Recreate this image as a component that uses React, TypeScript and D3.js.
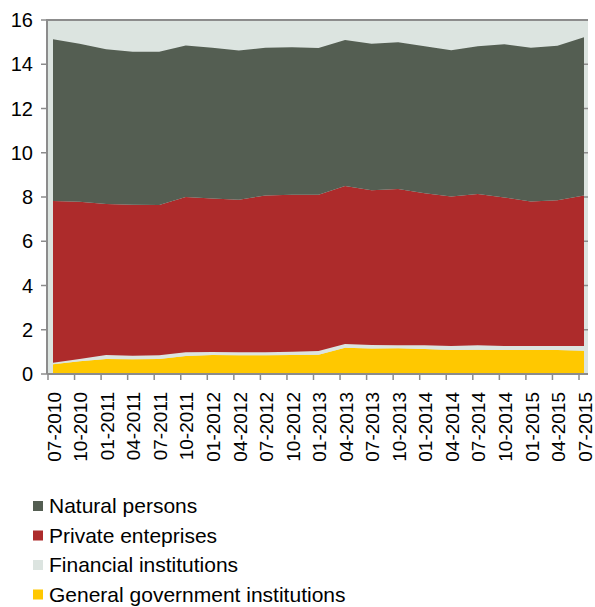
import React from "react";
import * as d3 from "d3";

const categories = ["07-2010","10-2010","01-2011","04-2011","07-2011","10-2011","01-2012","04-2012","07-2012","10-2012","01-2013","04-2013","07-2013","10-2013","01-2014","04-2014","07-2014","10-2014","01-2015","04-2015","07-2015"];
const generalGov = [0.44,0.58,0.68,0.67,0.68,0.81,0.86,0.85,0.85,0.86,0.87,1.19,1.15,1.16,1.13,1.08,1.10,1.08,1.08,1.08,1.05];
const financial = [0.07,0.10,0.18,0.16,0.17,0.17,0.13,0.13,0.13,0.15,0.17,0.17,0.16,0.14,0.17,0.19,0.20,0.19,0.18,0.18,0.21];
const privateEnt = [7.31,7.11,6.82,6.82,6.79,7.02,6.94,6.90,7.09,7.09,7.06,7.14,6.99,7.06,6.87,6.75,6.84,6.71,6.54,6.59,6.81];
const naturalPersons = [7.31,7.14,7.00,6.92,6.93,6.85,6.82,6.74,6.68,6.67,6.64,6.60,6.63,6.64,6.64,6.61,6.67,6.92,6.95,6.99,7.15];
const yTicks = [0,2,4,6,8,10,12,14,16];

const seriesKeys = ["gov","fin","priv","nat"];
const seriesColors: Record<string,string> = { gov: "#FFC800", fin: "#DCE4E0", priv: "#AD2B2B", nat: "#545E52" };
const legendItems = [
  { key: "nat", label: "Natural persons" },
  { key: "priv", label: "Private enteprises" },
  { key: "fin", label: "Financial institutions" },
  { key: "gov", label: "General government institutions" },
];

export default function App() {
  const W = 595, H = 607;
  const left = 47, right = 588, top = 20, bottom = 374;
  const font = "'Liberation Sans', Arial, sans-serif";
  const rows = categories.map((c, i) => ({ cat: c, gov: generalGov[i], fin: financial[i], priv: privateEnt[i], nat: naturalPersons[i] }));
  const stack = d3.stack<any>().keys(seriesKeys)(rows);
  const y = d3.scaleLinear().domain([0, 16]).range([bottom, top]);
  const xData = d3.scalePoint<string>().domain(categories).range([53, 584]);
  const xTick = d3.scalePoint<string>().domain(categories).range([48, 579]);
  const area = d3.area<any>()
    .x((d) => xData(d.data.cat) as number)
    .y0((d) => y(d[0]))
    .y1((d) => y(d[1]));
  const axisColor = "#8C8C8C";
  return (
    <svg width={W} height={H} style={{ position: "absolute", left: 0, top: 0 }}>
      <rect x={0} y={0} width={W} height={H} fill="#fff" />
      <rect x={left} y={top} width={right - left} height={bottom - top} fill="#DCE4E0" />
      {stack.map((s) => (
        <path key={s.key} d={area(s) as string} fill={seriesColors[s.key]} />
      ))}
      <line x1={left} x2={right} y1={top} y2={top} stroke={axisColor} strokeWidth={2} />
      <line x1={left} x2={left} y1={top - 1} y2={bottom} stroke={axisColor} strokeWidth={2} />
      <line x1={left} x2={right} y1={bottom} y2={bottom} stroke={axisColor} strokeWidth={2} />
      {yTicks.map((t) => (
        <g key={t}>
          <line x1={41} x2={left} y1={y(t)} y2={y(t)} stroke={axisColor} strokeWidth={1.5} />
          {t > 0 && t < 16 && (
            <line x1={584} x2={588} y1={y(t)} y2={y(t)} stroke={axisColor} strokeWidth={1.5} />
          )}
          <text x={33} y={y(t)} dy="0.35em" textAnchor="end" fontFamily={font} fontSize={20} fill="#000">{t}</text>
        </g>
      ))}
      {categories.map((c) => {
        const tx = xTick(c) as number;
        return (
          <g key={c}>
            <line x1={tx} x2={tx} y1={bottom} y2={380} stroke={axisColor} strokeWidth={1.5} />
            <text transform={`translate(${tx + 6},392) rotate(-90)`} dy="0.35em" textAnchor="end" fontFamily={font} fontSize={19} fill="#000">{c}</text>
          </g>
        );
      })}
      {legendItems.map((it, i) => (
        <g key={it.key}>
          <rect x={33} y={501 + i * 29.5} width={10} height={10} fill={seriesColors[it.key]} />
          <text x={49} y={506 + i * 29.5} dy="0.35em" fontFamily={font} fontSize={21} fill="#000">{it.label}</text>
        </g>
      ))}
    </svg>
  );
}
